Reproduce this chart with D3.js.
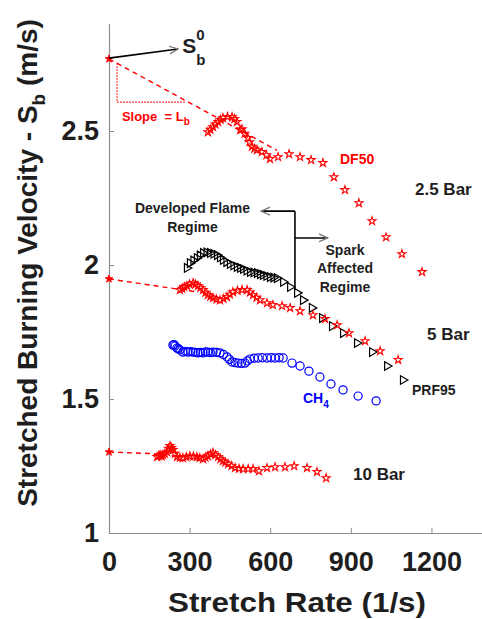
<!DOCTYPE html>
<html>
<head>
<meta charset="utf-8">
<script src="https://cdn.jsdelivr.net/npm/d3@7"></script>
<style>
html,body{margin:0;padding:0;background:#fff;}
svg{display:block;font-family:"Liberation Sans",Arial,sans-serif;font-weight:bold;}
text{white-space:pre;}
</style>
</head>
<body>
<svg id="chart" width="482" height="619"></svg>
<script>
// ---- data ----
const xTicks = [0, 300, 600, 900, 1200];
const yTicks = [1, 1.5, 2, 2.5];
const yTickLabels = ["1", "1.5", "2", "2.5"];

// DF50, 2.5 bar (red open stars)
const df50_25bar = [
  [368,2.496],[377,2.505],[387,2.515],[396,2.525],[406,2.534],[415,2.542],[424,2.549],[441,2.553],
  [458,2.552],[467,2.545],[476,2.534],[488,2.504],[495,2.507],[505,2.490],[517,2.474],[523,2.459],
  [532,2.442],[541,2.434],[551,2.429],[569,2.422],[586,2.410],[599,2.396],[629,2.403],[670,2.414],
  [711,2.403],[752,2.392],[796,2.381],[837,2.328],[878,2.280],[930,2.231],[979,2.164],[1031,2.104],
  [1090,2.041],[1165,1.974]
];
// DF50, 5 bar (red open stars)
const df50_5bar = [
  [264,1.907],[272,1.912],[280,1.918],[290,1.922],[300,1.928],[313,1.933],[322,1.928],[331,1.922],
  [340,1.915],[350,1.907],[359,1.897],[368,1.888],[377,1.882],[387,1.877],[400,1.872],[413,1.869],
  [426,1.874],[439,1.881],[450,1.890],[461,1.899],[478,1.904],[495,1.907],[514,1.907],[525,1.898],
  [536,1.888],[549,1.878],[562,1.869],[588,1.858],[610,1.851],[644,1.847],[674,1.840],[711,1.828],
  [759,1.813],[804,1.799],[849,1.776],[893,1.746],[953,1.716],[1009,1.679],[1076,1.646]
];
// PRF95, 5 bar (black open right triangles)
const prf95_5bar = [
  [290,1.989],[301,2.007],[314,2.017],[327,2.026],[338,2.036],[350,2.045],[363,2.047],[376,2.045],
  [389,2.042],[402,2.037],[413,2.028],[424,2.019],[437,2.011],[450,2.004],[463,1.998],[476,1.993],
  [488,1.989],[499,1.985],[512,1.979],[525,1.974],[538,1.972],[551,1.970],[562,1.966],[573,1.963],
  [586,1.959],[599,1.955],[612,1.953],[625,1.951],[648,1.937],[674,1.918],[700,1.896],[722,1.869],
  [755,1.840],[793,1.802],[830,1.772],[871,1.746],[923,1.709],[979,1.675],[1035,1.623],[1094,1.571]
];
// CH4, 5 bar (blue open circles)
const ch4_5bar = [
  [238,1.701],[242,1.703],[246,1.698],[253,1.690],[258,1.688],[264,1.683],[275,1.675],[285,1.678],
  [294,1.675],[304,1.677],[313,1.675],[322,1.674],[331,1.672],[340,1.674],[350,1.672],[359,1.676],
  [368,1.675],[377,1.673],[387,1.675],[400,1.674],[413,1.672],[426,1.666],[439,1.657],[448,1.648],
  [458,1.638],[469,1.636],[480,1.634],[493,1.633],[506,1.634],[515,1.642],[525,1.649],[540,1.652],
  [555,1.653],[571,1.654],[588,1.653],[603,1.654],[618,1.653],[633,1.654],[648,1.653],[681,1.634],
  [711,1.623],[744,1.604],[785,1.582],[826,1.556],[871,1.534],[927,1.511],[994,1.493]
];
// DF50, 10 bar (red open stars)
const df50_10bar = [
  [179,1.284],[185,1.288],[190,1.291],[196,1.286],[201,1.291],[208,1.296],[216,1.302],[222,1.315],
  [227,1.325],[233,1.318],[238,1.310],[245,1.296],[253,1.284],[264,1.281],[275,1.280],[288,1.284],
  [301,1.287],[314,1.286],[327,1.284],[338,1.280],[350,1.276],[359,1.282],[368,1.287],[378,1.294],
  [387,1.299],[396,1.291],[406,1.284],[415,1.276],[424,1.269],[433,1.263],[443,1.257],[456,1.250],
  [469,1.243],[484,1.240],[499,1.239],[518,1.239],[536,1.239],[558,1.231],[588,1.243],[618,1.246],
  [655,1.246],[689,1.250],[737,1.243],[774,1.228],[808,1.205]
];
// unstretched burning velocities (stretch rate = 0)
const sb0Points = [[0,2.769],[0,1.948],[0,1.302]];
// linear extrapolation lines (dashed)
const fitLines = [
  [[0,2.769],[625,2.428]],
  [[0,1.948],[330,1.899]],
  [[0,1.302],[171,1.296]]
];

// ---- layout ----
const svg = d3.select("#chart");
const x = d3.scaleLinear().domain([0, 1400]).range([109, 485.2]);
const y = d3.scaleLinear().domain([1, 2.9]).range([533, 23.8]);
const RED = "#ff0000", BLUE = "#0000ff", BLACK = "#000000", AXIS = "#8c8c8c", TXT = "#1e1e1e";

// axes
const xAxis = d3.axisBottom(x).tickValues(xTicks).tickFormat(d => String(d))
  .tickSizeInner(-5).tickSizeOuter(0).tickPadding(19);
const yAxis = d3.axisLeft(y).tickValues(yTicks).tickFormat((d, i) => yTickLabels[i])
  .tickSizeInner(-5).tickSizeOuter(0).tickPadding(10);

const gx = svg.append("g").attr("transform", "translate(0,533)").call(xAxis);
const gy = svg.append("g").attr("transform", "translate(109,0)").call(yAxis);
[gx, gy].forEach(g => {
  g.select(".domain").attr("stroke", AXIS).attr("stroke-width", 1.2);
  g.selectAll(".tick line").attr("stroke", AXIS).attr("stroke-width", 1);
  g.selectAll(".tick text").attr("fill", TXT).style("font-size", "27px")
    .style("font-weight", "bold").style("font-family", "'Liberation Sans',Arial,sans-serif");
});

// axis titles
svg.append("text").attr("x", 297).attr("y", 612).attr("text-anchor", "middle")
  .attr("textLength", 258).attr("lengthAdjust", "spacingAndGlyphs")
  .attr("fill", TXT).style("font-size", "28px").text("Stretch Rate (1/s)");
const yl = svg.append("text").attr("transform", "translate(37,263) rotate(-90)")
  .attr("text-anchor", "middle").attr("fill", TXT).style("font-size", "28px");
yl.append("tspan").text("Stretched Burning Velocity - S");
yl.append("tspan").attr("dy", 8).style("font-size", "19px").text("b");
yl.append("tspan").attr("dy", -8).text(" (m/s)");

// dashed extrapolation lines
const line = d3.line().x(d => x(d[0])).y(d => y(d[1]));
svg.selectAll(".fit").data(fitLines).join("path")
  .attr("d", line).attr("fill", "none").attr("stroke", RED)
  .attr("stroke-width", 1.4).attr("stroke-dasharray", "5,4");

// slope triangle (dotted)
const lineAt = xv => 2.769 + (2.428 - 2.769) * xv / 625;
svg.append("path")
  .attr("d", line([[30, lineAt(30)], [30, 2.608], [283, 2.608]]))
  .attr("fill", "none").attr("stroke", RED).attr("stroke-width", 1.2).attr("stroke-dasharray", "1.5,1.5");

// markers
const star = d3.symbol().type(d3.symbolStar).size(20);
const tri = d3.symbol().type(d3.symbolTriangle).size(32);
const starSeries = [df50_25bar, df50_5bar, df50_10bar];

svg.append("g").selectAll("path").data(ch4_5bar).join("path")
  .attr("d", d3.symbol().type(d3.symbolCircle).size(52))
  .attr("transform", d => `translate(${x(d[0])},${y(d[1])})`)
  .attr("fill", "none").attr("stroke", BLUE).attr("stroke-width", 1.2);

svg.append("g").selectAll("path").data(prf95_5bar).join("path")
  .attr("d", tri)
  .attr("transform", d => `translate(${x(d[0])},${y(d[1])}) rotate(90)`)
  .attr("fill", "none").attr("stroke", BLACK).attr("stroke-width", 1.2);

starSeries.forEach(s => {
  svg.append("g").selectAll("path").data(s).join("path")
    .attr("d", star)
    .attr("transform", d => `translate(${x(d[0])},${y(d[1])})`)
    .attr("fill", "none").attr("stroke", RED).attr("stroke-width", 1.1);
});

svg.append("g").selectAll("path").data(sb0Points).join("path")
  .attr("d", d3.symbol().type(d3.symbolStar).size(18))
  .attr("transform", d => `translate(${x(d[0])},${y(d[1])})`)
  .attr("fill", RED).attr("stroke", RED).attr("stroke-width", 1);

// arrow marker definition
const defs = svg.append("defs");
defs.append("marker").attr("id", "openArrow").attr("viewBox", "0 0 10 10")
  .attr("refX", 9).attr("refY", 5).attr("markerWidth", 10).attr("markerHeight", 10)
  .attr("markerUnits", "userSpaceOnUse").attr("orient", "auto")
  .append("path").attr("d", "M0,1 L9,5 L0,9").attr("fill", "none")
  .attr("stroke", "#777").attr("stroke-width", 1.3);

// S_b^0 annotation
svg.append("path").attr("d", line([[0, 2.772], [257, 2.806]]))
  .attr("stroke", BLACK).attr("stroke-width", 1.6).attr("fill", "none")
  .attr("marker-end", "url(#openArrow)");
svg.append("text").attr("x", x(273)).attr("y", y(2.79)).attr("fill", TXT).style("font-size", "21px").text("S");
svg.append("text").attr("x", x(325)).attr("y", y(2.84)).attr("fill", TXT).style("font-size", "15px").text("0");
svg.append("text").attr("x", x(325)).attr("y", y(2.747)).attr("fill", TXT).style("font-size", "15px").text("b");

// Slope = L_b
const sl = svg.append("text").attr("x", x(48)).attr("y", y(2.538)).attr("fill", RED).style("font-size", "13px");
sl.append("tspan").text("Slope  = L");
sl.append("tspan").attr("dy", 4).style("font-size", "10px").text("b");

// regime bracket
const bx = 692;
svg.append("path").attr("d", line([[bx, 2.201], [bx, 1.907]]))
  .attr("stroke", BLACK).attr("stroke-width", 1.6).attr("fill", "none");
svg.append("path").attr("d", line([[bx, 2.201], [566, 2.201]]))
  .attr("stroke", BLACK).attr("stroke-width", 1.6).attr("fill", "none").attr("marker-end", "url(#openArrow)");
svg.append("path").attr("d", line([[bx, 2.101], [814, 2.101]]))
  .attr("stroke", BLACK).attr("stroke-width", 1.6).attr("fill", "none").attr("marker-end", "url(#openArrow)");

function label(lines, cx, ys, size, color, anchor) {
  lines.forEach((t, i) => {
    svg.append("text").attr("x", cx).attr("y", ys[i]).attr("text-anchor", anchor || "middle")
      .attr("fill", color).style("font-size", size + "px").text(t);
  });
}
label(["Developed Flame", "Regime"], 192.5, [213, 232], 14, TXT);
label(["Spark", "Affected", "Regime"], 345, [255, 273, 292], 14, TXT);

// series / pressure labels
label(["DF50"], 340, [164], 14, RED, "start");
label(["PRF95"], 412, [395], 14, TXT, "start");
const ch = svg.append("text").attr("x", 303).attr("y", 403).attr("fill", BLUE).style("font-size", "14px");
ch.append("tspan").text("CH");
ch.append("tspan").attr("dy", 5).style("font-size", "10px").text("4");
label(["2.5 Bar"], 415, [195], 17, TXT, "start");
label(["5 Bar"], 427, [340], 17, TXT, "start");
label(["10 Bar"], 353, [480], 17, TXT, "start");
</script>
</body>
</html>
